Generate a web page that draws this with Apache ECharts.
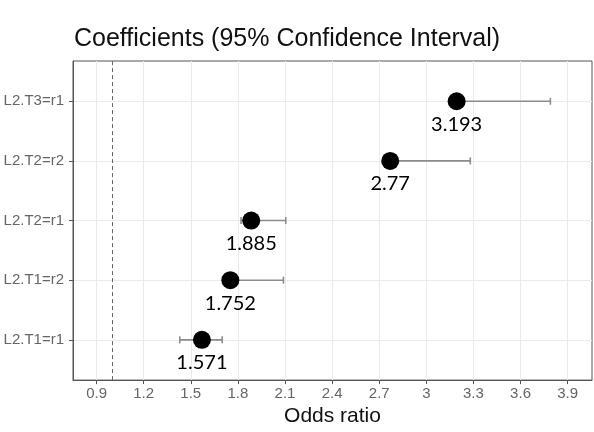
<!DOCTYPE html>
<html>
<head>
<meta charset="utf-8">
<script src="https://cdn.jsdelivr.net/npm/echarts@6/dist/echarts.min.js"></script>
<style>
html,body{margin:0;padding:0;background:#fff;}
#chart{width:594px;height:432px;}
</style>
</head>
<body>
<div id="chart"></div>
<script>
// Categories from bottom to top
const categories = ['L2.T1=r1', 'L2.T1=r2', 'L2.T2=r1', 'L2.T2=r2', 'L2.T3=r1'];
const estimates = [1.571, 1.752, 1.885, 2.77, 3.193];
const lowerCI = [1.43, 1.72, 1.82, 2.74, 3.16];
const upperCI = [1.70, 2.09, 2.105, 3.28, 3.79];
const xTicks = [0.9, 1.2, 1.5, 1.8, 2.1, 2.4, 2.7, 3, 3.3, 3.6, 3.9];
const refLine = 1;

const yIdx = categories.map((c, i) => i);
const pointData = estimates.map((v, i) => [v, i]);
const barData = estimates.map((v, i) => [lowerCI[i], upperCI[i], i]);

const chart = echarts.init(document.getElementById('chart'), null, {renderer: 'canvas'});
chart.setOption({
  animation: false,
  backgroundColor: '#fff',
  title: {
    text: 'Coefficients (95% Confidence Interval)',
    left: 74, top: 27, padding: 0,
    textStyle: {fontFamily: 'Liberation Sans', fontSize: 25, fontWeight: 'normal', color: '#111'}
  },
  grid: {left: 73, right: 2, top: 61, bottom: 43, show: true, borderColor: '#555', borderWidth: 1, backgroundColor: 'transparent'},
  xAxis: {
    type: 'value', min: 0.75, max: 4.055,
    name: 'Odds ratio', nameLocation: 'middle', nameGap: 24,
    nameTextStyle: {fontFamily: 'Liberation Sans', fontSize: 21, color: '#111'},
    axisLine: {show: true, onZero: false, lineStyle: {color: '#555', width: 1}},
    axisTick: {show: true, length: 4, customValues: xTicks, lineStyle: {color: '#555'}},
    axisLabel: {customValues: xTicks, margin: 6, fontFamily: 'Liberation Sans', fontSize: 15, color: '#666'},
    splitLine: {show: true, lineStyle: {color: '#ebebeb', width: 1}}
  },
  yAxis: {
    type: 'value', min: -0.675, max: 4.675,
    axisLine: {show: true, onZero: false, lineStyle: {color: '#555', width: 1}},
    axisTick: {show: true, length: 4, customValues: yIdx, lineStyle: {color: '#555'}},
    axisLabel: {customValues: yIdx, margin: 9, fontFamily: 'Liberation Sans', fontSize: 15, color: '#666',
      formatter: v => categories[Math.round(v)]},
    splitLine: {show: true, lineStyle: {color: '#ebebeb', width: 1}}
  },
  series: [
    {
      type: 'custom',
      data: barData,
      encode: {x: [0, 1], y: 2},
      z: 2,
      renderItem: function (params, api) {
        const y = api.value(2);
        const p1 = api.coord([api.value(0), y]);
        const p2 = api.coord([api.value(1), y]);
        const h = 3.5;
        const style = {stroke: '#8c8c8c', lineWidth: 1.6};
        return {type: 'group', children: [
          {type: 'line', shape: {x1: p1[0], y1: p1[1], x2: p2[0], y2: p2[1]}, style: style},
          {type: 'line', shape: {x1: p1[0], y1: p1[1] - h, x2: p1[0], y2: p1[1] + h}, style: style},
          {type: 'line', shape: {x1: p2[0], y1: p2[1] - h, x2: p2[0], y2: p2[1] + h}, style: style}
        ]};
      }
    },
    {
      type: 'scatter',
      data: pointData,
      symbolSize: 18,
      z: 3,
      itemStyle: {color: '#000', opacity: 1},
      label: {
        show: true, position: 'bottom', distance: 4,
        fontFamily: 'Lato', fontSize: 20, color: '#000',
        formatter: p => String(estimates[p.dataIndex])
      },
      markLine: {
        silent: true, symbol: 'none',
        label: {show: false},
        lineStyle: {color: '#666', type: [4, 3], width: 1},
        data: [{xAxis: refLine}]
      }
    }
  ]
});
</script>
</body>
</html>
